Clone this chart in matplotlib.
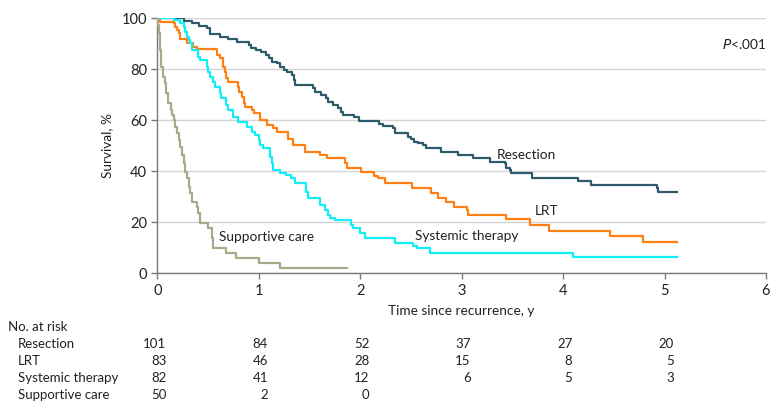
import matplotlib
matplotlib.use("Agg")
import matplotlib.pyplot as plt
import matplotlib.transforms as mtransforms

# ── Kaplan-Meier step points (time in years, survival %) ──
res_t = [0, 0.26, 0.34, 0.41, 0.49, 0.52, 0.62, 0.70, 0.79, 0.90, 0.92, 0.97,
         1.02, 1.07, 1.10, 1.13, 1.18, 1.21, 1.25, 1.28, 1.33, 1.35, 1.36, 1.53,
         1.55, 1.61, 1.66, 1.68, 1.73, 1.78, 1.81, 1.83, 1.94, 1.99, 2.19, 2.22,
         2.32, 2.34, 2.47, 2.50, 2.53, 2.57, 2.62, 2.65, 2.80, 2.96, 3.11, 3.28,
         3.43, 3.44, 3.48, 3.49, 3.69, 4.15, 4.28, 4.93, 4.94, 5.12]
res_s = [100, 99, 98, 97, 96, 94, 92.5, 91.8, 90.8, 89.5, 88.2, 87.6,
         86.9, 85.6, 84.3, 83, 82.3, 81, 79.7, 79.1, 77.8, 75.8, 73.8, 72.5,
         71.2, 69.9, 68.6, 67.3, 66, 64.7, 63.4, 62.1, 61.4, 59.8, 58.5, 57.8,
         56.9, 55.1, 53.6, 52.5, 51.6, 51, 50.3, 49, 47.7, 46.4, 45.1, 43.8,
         43.1, 41.2, 40.5, 39.5, 37.3, 36.3, 34.6, 33.3, 32, 32]

lrt_t = [0, 0.03, 0.16, 0.17, 0.19, 0.21, 0.22, 0.29, 0.35, 0.39, 0.59, 0.62,
         0.65, 0.67, 0.68, 0.70, 0.80, 0.81, 0.83, 0.85, 0.86, 0.93, 0.95, 1.01,
         1.08, 1.14, 1.18, 1.29, 1.34, 1.46, 1.60, 1.67, 1.85, 1.87, 2.01, 2.14,
         2.18, 2.24, 2.51, 2.70, 2.77, 2.85, 2.92, 3.05, 3.06, 3.44, 3.67, 3.86,
         4.46, 4.79, 5.12]
lrt_s = [100, 98.7, 98, 96.7, 95.4, 94.1, 91.8, 90.4, 88.9, 87.8, 85.6, 84.3,
         81, 79.1, 76.5, 75.1, 73.2, 71.2, 69.3, 66.7, 65.3, 64, 62.7, 60.1,
         58.2, 56.9, 55.5, 52.5, 50.3, 47.7, 46.4, 45.1, 43.1, 41.2, 39.9, 38.2,
         37.3, 35.3, 33.3, 31.4, 29.4, 28.1, 26.1, 24.8, 22.9, 21.2, 18.9, 16.7,
         14.6, 12.4, 12.4]

sys_t = [0, 0.16, 0.22, 0.26, 0.27, 0.29, 0.31, 0.32, 0.34, 0.40, 0.42, 0.49,
         0.50, 0.52, 0.55, 0.57, 0.62, 0.63, 0.68, 0.70, 0.75, 0.80, 0.88, 0.93,
         0.96, 1.00, 1.01, 1.04, 1.11, 1.13, 1.14, 1.21, 1.27, 1.32, 1.36, 1.47,
         1.49, 1.60, 1.65, 1.68, 1.70, 1.75, 1.91, 1.93, 2.00, 2.05, 2.34, 2.52,
         2.56, 2.69, 4.10, 5.12]
sys_s = [100, 99.3, 98, 96.7, 94.8, 92.8, 91.5, 90.2, 87.6, 84.9, 83.7, 81,
         79.1, 77.1, 75.1, 73.2, 70.6, 68.6, 66, 64, 61.4, 59.4, 57.5, 55.5,
         54.2, 52.3, 50.3, 49, 45.7, 43.1, 40.5, 39.2, 38.5, 37.3, 35.3, 32,
         29.4, 26.8, 24.8, 22.9, 21.6, 20.9, 18.9, 17.6, 15.7, 13.7, 12, 10.7,
         9.8, 8, 6.5, 6.5]

sup_t = [0, 0.01, 0.02, 0.03, 0.04, 0.06, 0.08, 0.09, 0.11, 0.13, 0.14, 0.16,
         0.17, 0.19, 0.21, 0.22, 0.24, 0.26, 0.27, 0.29, 0.31, 0.32, 0.34, 0.39,
         0.40, 0.42, 0.50, 0.54, 0.55, 0.68, 0.78, 1.00, 1.21, 1.87]
sup_s = [100, 97.4, 94.1, 87.6, 81, 77.1, 74.5, 70.6, 66.7, 64, 62.1, 60.1,
         57.5, 54.9, 52.3, 49.6, 46.4, 43.1, 39.8, 37.3, 34, 31.4, 28.1, 26.1,
         23.5, 19.8, 17.6, 13.7, 10, 8, 6, 4, 2, 2]

groups = ["Resection", "LRT", "Systemic therapy", "Supportive care"]
colors = ["#2d5b6a", "#ff8012", "#12eef8", "#a9a98b"]

# number at risk
risk_times = [0, 1, 2, 3, 4, 5]
risk_resection = [101, 84, 52, 37, 27, 20]
risk_lrt = [83, 46, 28, 15, 8, 5]
risk_systemic = [82, 41, 12, 6, 5, 3]
risk_supportive = [50, 2, 0]

plt.rcParams["font.family"] = ["Lato", "DejaVu Sans"]
plt.rcParams["font.size"] = 9.5
TXT = "#222222"

fig = plt.figure(figsize=(7.8, 4.13), dpi=100)
ax = fig.add_axes([0.2017, 0.3383, 0.7803, 0.6174])

for t, s, c in zip([res_t, lrt_t, sys_t, sup_t], [res_s, lrt_s, sys_s, sup_s], colors):
    ax.step(t, s, where="post", color=c, linewidth=1.6, zorder=3)

ax.set_xlim(0, 6)
ax.set_ylim(0, 100)
ax.set_xticks(range(7))
ax.set_yticks(range(0, 101, 20))
ax.yaxis.grid(True, color="#d4d4d4", linewidth=1.0, zorder=0)
ax.set_axisbelow(True)
for side in ("top", "right"):
    ax.spines[side].set_visible(False)
for side in ("left", "bottom"):
    ax.spines[side].set_color("#7a7a7a")
    ax.spines[side].set_linewidth(1.0)
ax.tick_params(axis="both", colors="#7a7a7a", length=4, width=1.0,
               labelcolor=TXT, labelsize=10.5)
ax.set_xlabel("Time since recurrence, y", fontsize=9.8, color=TXT, labelpad=5)
ax.set_ylabel("Survival, %", fontsize=9.8, color=TXT, labelpad=6)

# curve labels
ax.text(3.35, 46.2, "Resection", fontsize=9.8, va="center", color=TXT)
ax.text(3.72, 24.5, "LRT", fontsize=9.8, va="center", color=TXT)
ax.text(2.54, 14.6, "Systemic therapy", fontsize=9.8, va="center", color=TXT)
ax.text(0.61, 14.4, "Supportive care", fontsize=9.8, va="center", color=TXT)
ax.text(6.0, 89.8, "$P$<.001", fontsize=9.8, ha="right", va="center", color=TXT)

# number-at-risk table below the axis
trans = mtransforms.blended_transform_factory(ax.transData, fig.transFigure)
row_y = [1 - 344 / 413, 1 - 361 / 413, 1 - 378 / 413, 1 - 395 / 413]
fig.text(8 / 780, 1 - 327 / 413, "No. at risk", fontsize=9.5, va="center", color=TXT)
rows = [risk_resection, risk_lrt, risk_systemic, risk_supportive]
for name, counts, y in zip(groups, rows, row_y):
    fig.text(18 / 780, y, name, fontsize=9.5, va="center", color=TXT)
    for t, n in zip(risk_times, counts):
        ax.text(t + 0.09, y, str(n), transform=trans, fontsize=9.5,
                ha="right", va="center", color=TXT)

fig.savefig("out.png", dpi=100)
